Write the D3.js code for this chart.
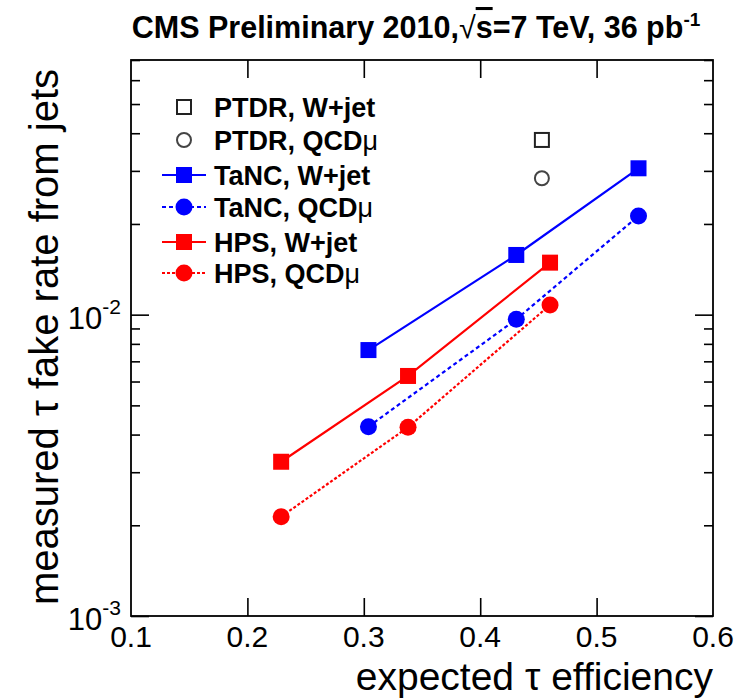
<!DOCTYPE html>
<html>
<head>
<meta charset="utf-8">
<script src="https://cdn.jsdelivr.net/npm/d3@7"></script>
<style>
  body { margin: 0; background: #fff; }
  text { font-family: "Liberation Sans", Arial, Helvetica, sans-serif; fill: #000; }
</style>
</head>
<body>
<div id="chart"></div>
<script>
const effTaNC = [0.304, 0.431, 0.536];
const fakeTaNCW = [0.00763, 0.01578, 0.0306];
const fakeTaNCQCD = [0.00425, 0.00965, 0.02127];
const effHPS = [0.229, 0.338, 0.460];
const fakeHPSW = [0.00325, 0.00626, 0.01488];
const fakeHPSQCD = [0.002136, 0.00423, 0.01077];
const effPTDR = [0.453];
const fakePTDRW = [0.0380];
const fakePTDRQCD = [0.02836];

const xTicks = [0.1, 0.2, 0.3, 0.4, 0.5, 0.6];
const yMajor = [1e-3, 1e-2];
const yMinor = [2e-3, 3e-3, 4e-3, 5e-3, 6e-3, 7e-3, 8e-3, 9e-3, 2e-2, 3e-2, 4e-2, 5e-2, 6e-2, 7e-2];

const legendNames = ['PTDR, W+jet', 'PTDR, QCD', 'TaNC, W+jet', 'TaNC, QCD', 'HPS, W+jet', 'HPS, QCD'];

const W = 739, H = 699;
const frame = { left: 131, right: 713, top: 60, bottom: 616 };

const svg = d3.select('#chart').append('svg')
  .attr('width', W)
  .attr('height', H);

const x = d3.scaleLinear().domain([0.1, 0.6]).range([frame.left, frame.right]);
const y = d3.scaleLog().domain([1e-3, 0.07]).range([frame.bottom, frame.top]);

const zip = (xs, ys) => xs.map((v, i) => [v, ys[i]]);

const series = [
  { name: legendNames[2], pts: zip(effTaNC, fakeTaNCW), color: '#0000ff', dash: null, shape: 'square' },
  { name: legendNames[3], pts: zip(effTaNC, fakeTaNCQCD), color: '#0000ff', dash: '4,3', shape: 'circle' },
  { name: legendNames[4], pts: zip(effHPS, fakeHPSW), color: '#ff0000', dash: null, shape: 'square' },
  { name: legendNames[5], pts: zip(effHPS, fakeHPSQCD), color: '#ff0000', dash: '3,2', shape: 'circle' }
];

// axes: ticks point inward
const axisStyle = g => {
  g.select('.domain').remove();
  g.selectAll('line').attr('stroke', '#000').attr('stroke-width', 1.6);
  g.selectAll('text').remove();
};

svg.append('g').attr('transform', `translate(0,${frame.bottom})`)
  .call(d3.axisBottom(x).tickValues(xTicks.slice(1, -1)).tickSize(-18).tickFormat(''))
  .call(axisStyle);
svg.append('g').attr('transform', `translate(0,${frame.top})`)
  .call(d3.axisTop(x).tickValues(xTicks.slice(1, -1)).tickSize(-18).tickFormat(''))
  .call(axisStyle);

[[d3.axisLeft, frame.left], [d3.axisRight, frame.right]].forEach(([ax, pos]) => {
  svg.append('g').attr('transform', `translate(${pos},0)`)
    .call(ax(y).tickValues(yMajor).tickSize(-18).tickFormat(''))
    .call(axisStyle);
  svg.append('g').attr('transform', `translate(${pos},0)`)
    .call(ax(y).tickValues(yMinor).tickSize(-9).tickFormat(''))
    .call(axisStyle);
});

// frame
svg.append('rect')
  .attr('x', frame.left).attr('y', frame.top)
  .attr('width', frame.right - frame.left).attr('height', frame.bottom - frame.top)
  .attr('fill', 'none')
  .attr('stroke', '#000')
  .attr('stroke-width', 1.8);

// x tick labels
svg.append('g').selectAll('text')
  .data(xTicks)
  .join('text')
  .attr('x', d => x(d))
  .attr('y', frame.bottom + 31)
  .attr('text-anchor', 'middle')
  .style('font-size', '30px')
  .text(d => d3.format('.1f')(d));

// y tick labels 10^n
const yLab = svg.append('g').selectAll('text')
  .data(yMajor)
  .join('text')
  .attr('x', frame.left - 10)
  .attr('y', d => y(d) + 14)
  .attr('text-anchor', 'end')
  .style('font-size', '31px');
yLab.append('tspan').text('10');
yLab.append('tspan')
  .attr('dy', -15)
  .style('font-size', '21px')
  .text(d => Math.round(Math.log10(d)));

// axis titles
svg.append('text')
  .attr('x', frame.right)
  .attr('y', 690)
  .attr('text-anchor', 'end')
  .style('font-size', '39px')
  .text('expected \u03c4 efficiency');

svg.append('text')
  .attr('transform', `translate(58,${frame.top + 9}) rotate(-90)`)
  .attr('text-anchor', 'end')
  .style('font-size', '40px')
  .text('measured \u03c4 fake rate from jets');

// title
const title = svg.append('text')
  .attr('x', 416)
  .attr('y', 38)
  .attr('text-anchor', 'middle')
  .style('font-size', '30.5px')
  .style('font-weight', 'bold');
title.append('tspan').text('CMS Preliminary 2010,');
title.append('tspan').style('font-weight', 'normal').text('\u221a');
title.append('tspan').style('text-decoration', 'overline').text('s');
title.append('tspan').text('=7 TeV, 36 pb');
title.append('tspan').attr('dy', -12).style('font-size', '19px').text('-1');

// lines
const line = d3.line().x(d => x(d[0])).y(d => y(d[1]));
series.forEach(s => {
  svg.append('path')
    .datum(s.pts)
    .attr('d', line)
    .attr('fill', 'none')
    .attr('stroke', s.color)
    .attr('stroke-width', 2.2)
    .attr('stroke-dasharray', s.dash);
});

function marker(g, shape, cx, cy, color, open) {
  if (shape === 'square') {
    const a = open ? 14 : 16;
    g.append('rect')
      .attr('x', cx - a / 2).attr('y', cy - a / 2)
      .attr('width', a).attr('height', a)
      .attr('fill', open ? 'none' : color)
      .attr('stroke', open ? '#222' : 'none')
      .attr('stroke-width', 2);
  } else {
    g.append('circle')
      .attr('cx', cx).attr('cy', cy)
      .attr('r', open ? 7 : 8.5)
      .attr('fill', open ? 'none' : color)
      .attr('stroke', open ? '#444' : 'none')
      .attr('stroke-width', 2);
  }
}

const marks = svg.append('g');
series.forEach(s => {
  s.pts.forEach(p => marker(marks, s.shape, x(p[0]), y(p[1]), s.color, false));
});
zip(effPTDR, fakePTDRW).forEach(p => marker(marks, 'square', x(p[0]), y(p[1]), '#000', true));
zip(effPTDR, fakePTDRQCD).forEach(p => marker(marks, 'circle', x(p[0]), y(p[1]), '#000', true));

// legend
const legendRows = [
  { shape: 'square', color: '#000', open: true, dash: undefined },
  { shape: 'circle', color: '#000', open: true, dash: undefined },
  { shape: 'square', color: '#0000ff', open: false, dash: null },
  { shape: 'circle', color: '#0000ff', open: false, dash: '4,3' },
  { shape: 'square', color: '#ff0000', open: false, dash: null },
  { shape: 'circle', color: '#ff0000', open: false, dash: '3,2' }
];
const rowY = [107, 140, 175, 207, 242, 273];
const legend = svg.append('g');
legendRows.forEach((r, i) => {
  const cy = rowY[i];
  if (r.dash !== undefined) {
    legend.append('line')
      .attr('x1', 162).attr('x2', 206)
      .attr('y1', cy).attr('y2', cy)
      .attr('stroke', r.color)
      .attr('stroke-width', 2)
      .attr('stroke-dasharray', r.dash);
  }
  marker(legend, r.shape, 184, cy, r.color, r.open);
  const t = legend.append('text')
    .attr('x', 214)
    .attr('y', cy + 10)
    .style('font-size', '27px')
    .style('font-weight', 'bold')
    .text(legendNames[i]);
  if (legendNames[i].endsWith('QCD')) {
    t.append('tspan').style('font-weight', 'normal').text('\u03bc');
  }
});
</script>
</body>
</html>
